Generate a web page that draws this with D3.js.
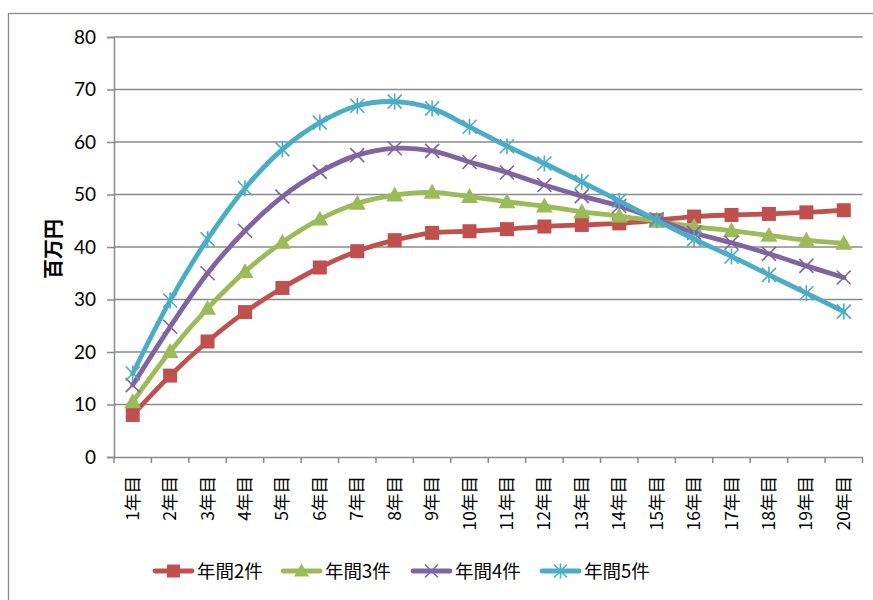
<!DOCTYPE html>
<html><head><meta charset="utf-8">
<script src="https://cdn.jsdelivr.net/npm/d3@7"></script>
<style>body{margin:0;background:#fff}svg{display:block}</style>
</head><body><svg id="c" width="873" height="600"></svg>
<script>
const categories = ["1年目","2年目","3年目","4年目","5年目","6年目","7年目","8年目","9年目","10年目","11年目","12年目","13年目","14年目","15年目","16年目","17年目","18年目","19年目","20年目"];
const seriesNames = ["年間2件","年間3件","年間4件","年間5件"];
const s2 = [8.0,15.5,22.0,27.6,32.2,36.1,39.2,41.3,42.7,43.0,43.4,43.9,44.2,44.5,45.1,45.8,46.1,46.3,46.6,47.0];
const s3 = [10.5,20.1,28.3,35.3,40.9,45.3,48.3,49.9,50.4,49.6,48.6,47.8,46.7,45.9,44.9,43.9,43.1,42.2,41.3,40.7];
const s4 = [13.7,24.8,35.0,43.1,49.6,54.3,57.5,58.8,58.3,56.2,54.2,51.8,49.7,47.8,45.3,42.7,40.8,38.7,36.4,34.2];
const s5 = [15.9,29.8,41.5,51.2,58.6,63.7,66.9,67.7,66.4,62.9,59.2,55.9,52.4,48.8,45.1,41.5,38.2,34.7,31.2,27.7];
const yTicks = [0,10,20,30,40,50,60,70,80];
const yTitle = "百万円";

const series = [s2,s3,s4,s5];
const colors = ["#C0504D","#9BBB59","#8064A2","#4BACC6"];
const markers = ["square","triangle","x","star"];

const svg = d3.select("#c");
const L = 114, R = 862.5, T = 37, B = 457;
const x = d3.scaleBand().domain(categories).range([L,R]).padding(0);
const y = d3.scaleLinear().domain([0,80]).range([B,T]);
const cx = d => x(d) + x.bandwidth()/2;

// outer border
svg.append("rect").attr("x",8.5).attr("y",13.5).attr("width",900).attr("height",700)
  .attr("fill","none").attr("stroke","#8c8c8c").attr("stroke-width",1.3);

// gridlines
svg.append("g").selectAll("line").data(yTicks.filter(v=>v>0)).join("line")
  .attr("x1",L).attr("x2",R).attr("y1",d=>y(d)).attr("y2",d=>y(d))
  .attr("stroke","#8a8a8a").attr("stroke-width",1.5);

const font = "Lato, 'Noto Sans CJK JP', sans-serif";
// y axis
const ya = svg.append("g").attr("transform",`translate(${L},0)`)
  .call(d3.axisLeft(y).tickValues(yTicks).tickSize(7).tickPadding(11));
ya.select(".domain").attr("stroke","#8a8a8a").attr("stroke-width",1.5);
ya.selectAll(".tick line").attr("stroke","#8a8a8a").attr("stroke-width",1.5);
ya.selectAll("text").attr("font-family",font).attr("font-size",19).attr("fill","#000");

// x axis
const xa = svg.append("g").attr("transform",`translate(0,${B})`)
  .call(d3.axisBottom(x).tickSize(0).tickFormat(""));
xa.select(".domain").attr("stroke","#8a8a8a").attr("stroke-width",1.5);
xa.append("g").selectAll("line").data(d3.range(categories.length+1)).join("line")
  .attr("x1",i=>L+i*x.bandwidth()).attr("x2",i=>L+i*x.bandwidth())
  .attr("y1",0).attr("y2",6).attr("stroke","#8a8a8a").attr("stroke-width",1.5);
svg.append("g").selectAll("text").data(categories).join("text")
  .attr("transform",d=>`translate(${cx(d)+6},476) rotate(-90)`)
  .attr("text-anchor","end")
  .attr("font-family","'Noto Sans CJK JP', sans-serif").attr("font-size",17.5).attr("fill","#000")
  .text(d=>d);

// y title
svg.append("text").attr("transform","translate(61,249) rotate(-90)")
  .attr("text-anchor","middle").attr("font-family","'Noto Sans CJK JP', sans-serif")
  .attr("font-weight","bold").attr("font-size",20).attr("fill","#000").text(yTitle);

function drawMarker(g, type, color, px, py, s){
  if(type==="square"){
    g.append("rect").attr("x",px-s/2).attr("y",py-s/2).attr("width",s).attr("height",s).attr("fill",color);
  } else if(type==="triangle"){
    const h = s*0.95;
    g.append("path").attr("d",`M${px},${py-h*0.6}L${px+s/2+1},${py+h*0.45}L${px-s/2-1},${py+h*0.45}Z`).attr("fill",color);
  } else if(type==="x"){
    const r = s/2;
    g.append("path").attr("d",`M${px-r},${py-r}L${px+r},${py+r}M${px-r},${py+r}L${px+r},${py-r}`)
      .attr("stroke",color).attr("stroke-width",1.6).attr("fill","none");
  } else {
    const r = s/2;
    g.append("path").attr("d",`M${px-r},${py-r}L${px+r},${py+r}M${px-r},${py+r}L${px+r},${py-r}M${px},${py-r-1}L${px},${py+r+1}`)
      .attr("stroke",color).attr("stroke-width",1.6).attr("fill","none");
  }
}

const line = d3.line().x((d,i)=>cx(categories[i])).y(d=>y(d)).curve(d3.curveCatmullRom.alpha(0.5));
series.forEach((s,k)=>{
  const g = svg.append("g");
  g.append("path").attr("d",line(s)).attr("fill","none").attr("stroke",colors[k])
    .attr("stroke-width",4.8).attr("stroke-linejoin","round").attr("stroke-linecap","round");
  s.forEach((v,i)=>drawMarker(g, markers[k], colors[k], cx(categories[i]), y(v), markers[k]==="triangle"?15:14));
});

// legend
const legX = [155,283,413,542];
legX.forEach((lx,k)=>{
  const g = svg.append("g");
  g.append("line").attr("x1",lx).attr("x2",lx+37).attr("y1",571).attr("y2",571)
    .attr("stroke",colors[k]).attr("stroke-width",4.8).attr("stroke-linecap","round");
  drawMarker(g, markers[k], colors[k], lx+18.5, 571, 13);
  g.append("text").attr("x",lx+42).attr("y",571).attr("dy","0.36em")
    .attr("font-family","'Noto Sans CJK JP', sans-serif").attr("font-size",18.5).attr("fill","#000")
    .text(seriesNames[k]);
});
</script></body></html>
